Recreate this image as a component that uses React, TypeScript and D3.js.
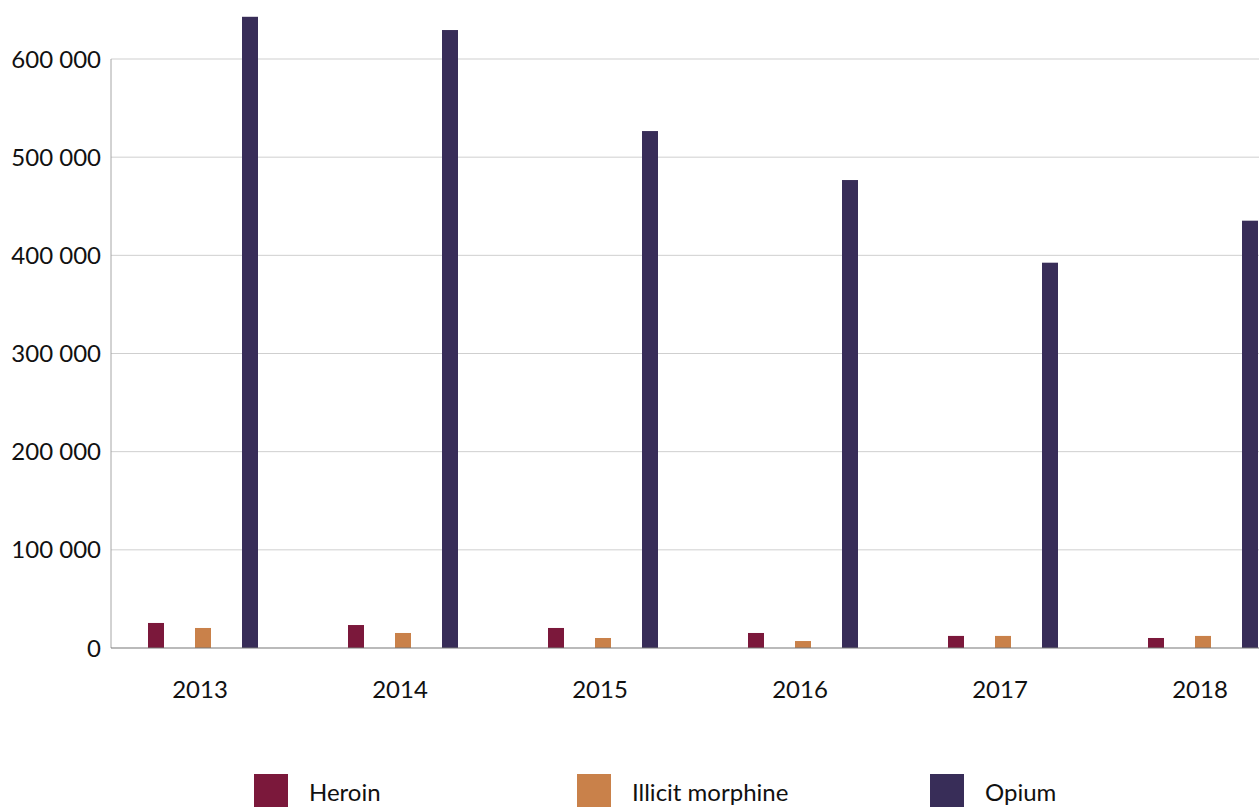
import React from "react";
import * as d3 from "d3";

const WIDTH = 1259;
const HEIGHT = 807;

// data (seizures, kg)
const years = ["2013", "2014", "2015", "2016", "2017", "2018"];
const series = ["Heroin", "Illicit morphine", "Opium"];
const heroin = [25500, 23400, 20400, 15300, 12300, 10200];
const morphine = [20400, 15300, 10200, 7100, 12300, 12300];
const opium = [643000, 629500, 526600, 476700, 392500, 435300];
const yTicks = [0, 100000, 200000, 300000, 400000, 500000, 600000];

const COLORS = ["#7b183b", "#c9814a", "#382d58"];
const FONT = "Lato, 'Noto Sans', sans-serif";

const PLOT_LEFT = 111;
const BASELINE = 648;
const TOP = 59;
const BAR_W = 16;

export default function App() {
  const values = [heroin, morphine, opium];

  const x = d3
    .scaleBand()
    .domain(years)
    .range([100, 100 + 6 * 200])
    .padding(0);

  // offset of each series around the group centre
  const inner = d3.scalePoint().domain(series).range([-44, 50]);

  const y = d3.scaleLinear().domain([0, 600000]).range([BASELINE, TOP]);

  const fmt = (v: number) => d3.format(",")(v).replace(/,/g, " ");

  return (
    <svg
      width={WIDTH}
      height={HEIGHT}
      style={{ position: "absolute", left: 0, top: 0, background: "#fff" }}
      fontFamily={FONT}
    >
      {/* gridlines */}
      {yTicks
        .filter((t) => t > 0)
        .map((t) => (
          <line
            key={t}
            x1={PLOT_LEFT}
            x2={WIDTH}
            y1={y(t)}
            y2={y(t)}
            stroke="#cfcfcf"
            strokeWidth={1}
          />
        ))}
      {/* y axis line */}
      <line x1={PLOT_LEFT} x2={PLOT_LEFT} y1={TOP} y2={BASELINE} stroke="#a6a6a6" />

      {/* y labels */}
      {yTicks.map((t) => (
        <text
          key={t}
          x={101}
          y={y(t) + 8.5}
          textAnchor="end"
          fontSize={24}
          fill="#111"
        >
          {fmt(t)}
        </text>
      ))}

      {/* bars */}
      {years.map((yr, i) => {
        const cx = (x(yr) ?? 0) + x.bandwidth() / 2;
        return (
          <g key={yr}>
            {series.map((s, j) => {
              const v = values[j][i];
              return (
                <rect
                  key={s}
                  x={cx + (inner(s) ?? 0) - BAR_W / 2}
                  y={y(v)}
                  width={BAR_W}
                  height={BASELINE - y(v)}
                  fill={COLORS[j]}
                />
              );
            })}
            <text x={cx} y={698} textAnchor="middle" fontSize={24} fill="#111">
              {yr}
            </text>
          </g>
        );
      })}

      {/* baseline */}
      <line x1={PLOT_LEFT} x2={WIDTH} y1={BASELINE} y2={BASELINE} stroke="#767676" strokeWidth={1.2} />

      {/* legend */}
      {series.map((s, j) => {
        const lx = [254, 577, 930][j];
        return (
          <g key={s}>
            <rect x={lx} y={774} width={34} height={34} fill={COLORS[j]} />
            <text x={lx + 55} y={801} fontSize={24} fill="#111">
              {s}
            </text>
          </g>
        );
      })}
    </svg>
  );
}
